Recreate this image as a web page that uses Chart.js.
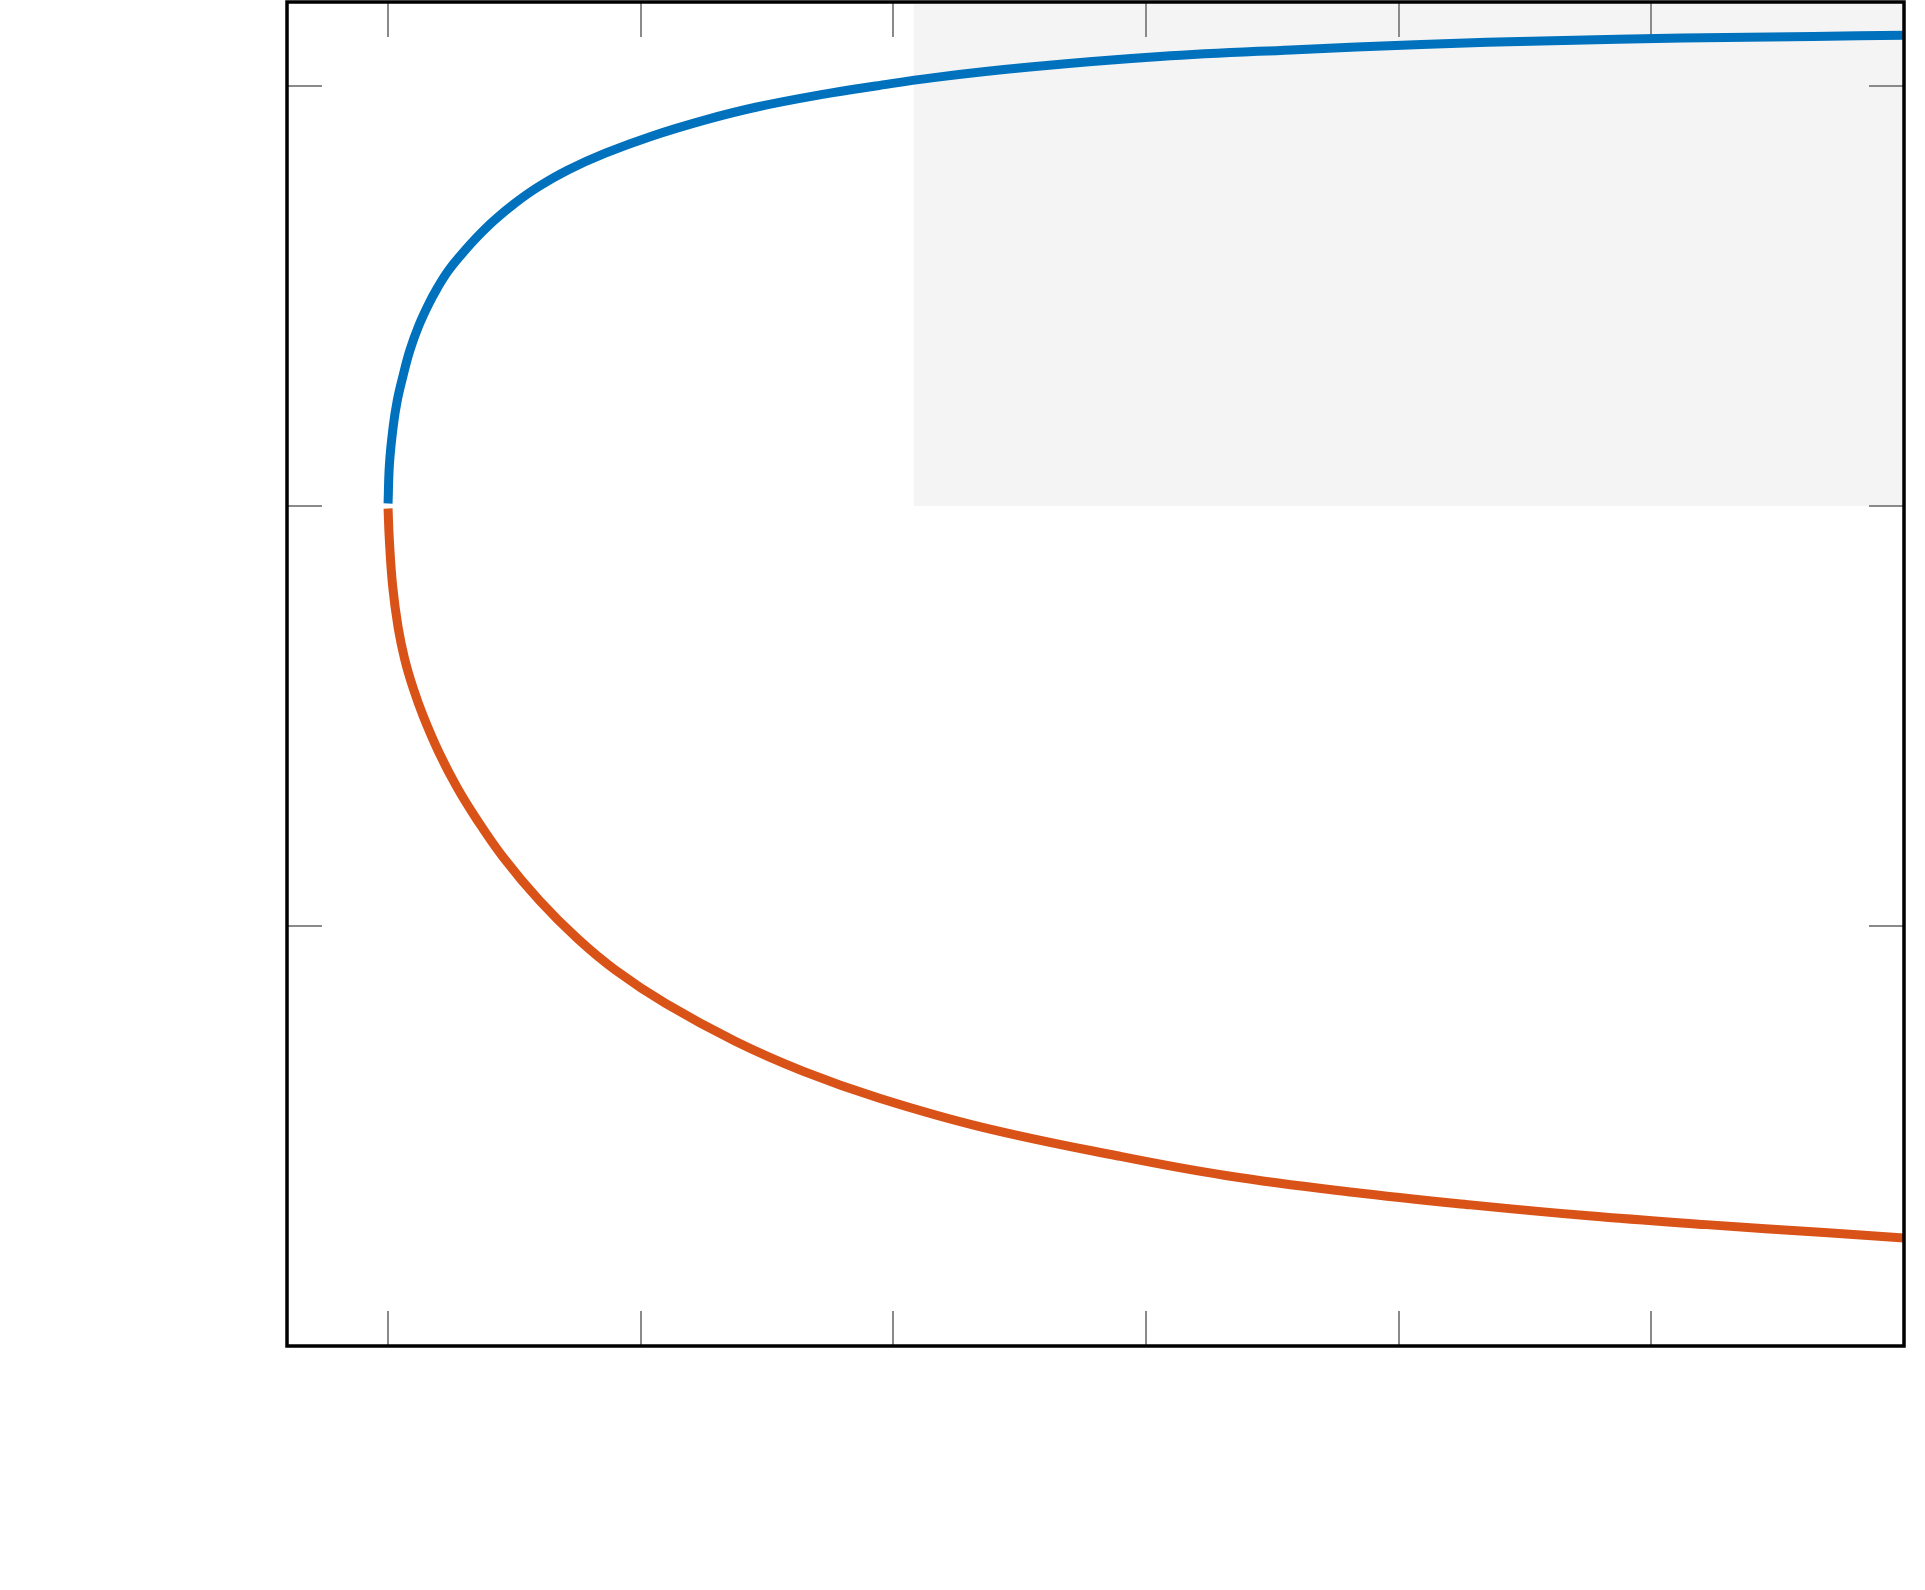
<!DOCTYPE html>
<html>
<head>
<meta charset="utf-8">
<script src="https://cdn.jsdelivr.net/npm/chart.js@4.4.0/dist/chart.umd.min.js"></script>
<style>
  html, body { margin: 0; padding: 0; background: #ffffff; }
  #wrap { width: 1925px; height: 1590px; }
</style>
</head>
<body>
<div id="wrap"><canvas id="branchChart" width="1925" height="1590"></canvas></div>
<script>
// axis limits and tick positions (no labels shown in the figure)
const xMin = -0.4, xMax = 6;
const yMin = -2, yMax = 1.2;
const xTicks = [0, 1, 2, 3, 4, 5, 6];
const yTicks = [-2, -1, 0, 1];

// upper branch (blue)
const upperX = [0, 0.0055, 0.02, 0.036, 0.058, 0.086, 0.122, 0.16, 0.196, 0.238, 0.292, 0.352, 0.42, 0.5,
  0.595, 0.712, 0.86, 1.04, 1.26, 1.46, 1.72, 1.93, 2.16, 2.54, 3.055, 3.573, 4.091, 4.609, 5.123, 5.64, 6];
const upperY = [0.006, 0.1, 0.188, 0.25, 0.307, 0.37, 0.43, 0.48, 0.52, 0.56, 0.6, 0.64, 0.68, 0.72,
  0.76, 0.8, 0.84, 0.88, 0.92, 0.95, 0.98, 1.0, 1.02, 1.045, 1.07, 1.086, 1.099, 1.108, 1.114, 1.118, 1.121];

// lower branch (orange)
const lowerX = [0, 0.005, 0.018, 0.04, 0.066, 0.1, 0.139, 0.2, 0.273, 0.35, 0.454, 0.6, 0.75, 0.9, 1.1,
  1.376, 1.644, 1.945, 2.345, 2.885, 3.315, 3.818, 4.285, 4.751, 5.217, 5.684, 6];
const lowerY = [-0.006, -0.08, -0.19, -0.29, -0.365, -0.435, -0.5, -0.585, -0.67, -0.745, -0.835, -0.94, -1.03, -1.105, -1.185,
  -1.275, -1.346, -1.41, -1.478, -1.547, -1.594, -1.634, -1.664, -1.69, -1.711, -1.73, -1.743];

// shaded region (upper right)
const shadeX = [2.08, 6];
const shadeY = [1.2, 1.2];

const toPoints = (xs, ys) => xs.map((x, i) => ({ x: x, y: ys[i] }));

// inward ticks on all four sides, drawn right after the shaded patch
const tickPlugin = {
  id: 'inwardTicks',
  afterDatasetDraw(chart, args) {
    if (args.index !== 2) return;
    const ctx = chart.ctx, a = chart.chartArea;
    const xs = chart.scales.x, ys = chart.scales.y;
    const len = 35;
    ctx.save();
    ctx.strokeStyle = '#8a8a8a';
    ctx.lineWidth = 2;
    ctx.beginPath();
    xTicks.forEach(v => {
      const px = Math.round(xs.getPixelForValue(v));
      ctx.moveTo(px, a.bottom); ctx.lineTo(px, a.bottom - len);
      ctx.moveTo(px, a.top); ctx.lineTo(px, a.top + len);
    });
    yTicks.forEach(v => {
      const py = Math.round(ys.getPixelForValue(v));
      ctx.moveTo(a.left, py); ctx.lineTo(a.left + len, py);
      ctx.moveTo(a.right, py); ctx.lineTo(a.right - len, py);
    });
    ctx.stroke();
    ctx.restore();
  },
  afterDraw(chart) {
    const ctx = chart.ctx, a = chart.chartArea;
    ctx.save();
    ctx.strokeStyle = '#000000';
    ctx.lineWidth = 3.5;
    ctx.strokeRect(a.left, a.top, a.right - a.left, a.bottom - a.top);
    ctx.restore();
  }
};

new Chart(document.getElementById('branchChart'), {
  type: 'line',
  data: {
    datasets: [
      {
        label: 'upper',
        data: toPoints(upperX, upperY),
        borderColor: '#0072BD',
        borderWidth: 9,
        pointRadius: 0,
        fill: false,
        tension: 0.4,
        borderCapStyle: 'butt',
        borderJoinStyle: 'round'
      },
      {
        label: 'lower',
        data: toPoints(lowerX, lowerY),
        borderColor: '#D95319',
        borderWidth: 9,
        pointRadius: 0,
        fill: false,
        tension: 0.4,
        borderCapStyle: 'butt',
        borderJoinStyle: 'round'
      },
      {
        label: 'shade',
        data: toPoints(shadeX, shadeY),
        borderWidth: 0,
        borderColor: 'rgba(0,0,0,0)',
        backgroundColor: '#f4f4f4',
        pointRadius: 0,
        fill: 'origin'
      }
    ]
  },
  options: {
    responsive: false,
    animation: false,
    devicePixelRatio: 1,
    layout: { padding: { left: 287, right: 21, top: 2, bottom: 244 } },
    plugins: { legend: { display: false }, tooltip: { enabled: false } },
    scales: {
      x: { type: 'linear', min: xMin, max: xMax, display: false },
      y: { type: 'linear', min: yMin, max: yMax, display: false }
    }
  },
  plugins: [tickPlugin]
});
</script>
</body>
</html>
